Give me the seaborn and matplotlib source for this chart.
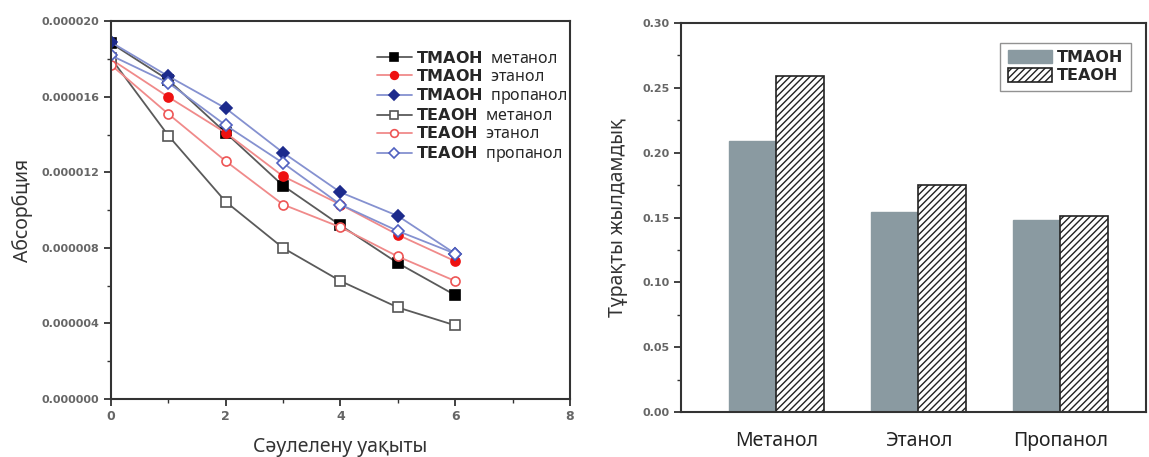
import numpy as np
import pandas as pd
import matplotlib
matplotlib.use("Agg")
import matplotlib.pyplot as plt
import seaborn as sns
from matplotlib.ticker import MultipleLocator, FormatStrFormatter

# --- left panel: absorption vs irradiation time ---
times = [0, 1, 2, 3, 4, 5, 6]
tmaoh_methanol = [18.85, 16.9, 14.1, 11.3, 9.2, 7.2, 5.5]
tmaoh_ethanol = [18.0, 16.0, 14.1, 11.8, 10.3, 8.7, 7.3]
tmaoh_propanol = [18.9, 17.1, 15.4, 13.05, 10.95, 9.7, 7.7]
teaoh_methanol = [18.05, 13.95, 10.45, 8.0, 6.25, 4.85, 3.9]
teaoh_ethanol = [17.7, 15.1, 12.6, 10.3, 9.1, 7.55, 6.25]
teaoh_propanol = [18.2, 16.75, 14.5, 12.5, 10.3, 8.9, 7.7]

# --- right panel: rate constants ---
solvents = ["Метанол", "Этанол", "Пропанол"]
rate_tmaoh = [0.209, 0.154, 0.148]
rate_teaoh = [0.259, 0.175, 0.151]

sns.set_theme(style="white")
plt.rcParams["font.family"] = ["Noto Sans", "DejaVu Sans"]
plt.rcParams["hatch.linewidth"] = 1.0

fig = plt.figure(figsize=(11.49, 4.57), dpi=100)
ax1 = fig.add_axes([0.0966, 0.127, 0.3994, 0.826])
ax2 = fig.add_axes([0.593, 0.0985, 0.404, 0.851])

series = [
    ("TMAOH", "метанол", tmaoh_methanol, "#5a5a5a", "s", "black", "black"),
    ("TMAOH", "этанол", tmaoh_ethanol, "#f08a8a", "o", "#ee1111", "#ee1111"),
    ("TMAOH", "пропанол", tmaoh_propanol, "#8591d0", "D", "#1c2a8c", "#1c2a8c"),
    ("TEAOH", "метанол", teaoh_methanol, "#5a5a5a", "s", "white", "#555555"),
    ("TEAOH", "этанол", teaoh_ethanol, "#f08a8a", "o", "white", "#ee5555"),
    ("TEAOH", "пропанол", teaoh_propanol, "#8591d0", "D", "white", "#5060c0"),
]
for base, solv, vals, lc, mk, mfc, mec in series:
    sns.lineplot(x=times, y=np.array(vals) * 1e-6, ax=ax1, color=lc,
                 marker=mk, markersize=6.5 if mk != "D" else 6,
                 markerfacecolor=mfc, markeredgecolor=mec, markeredgewidth=1.2,
                 linewidth=1.3, label=r"$\bf{" + base + "}$  " + solv)

ax1.set_xlim(0, 8)
ax1.set_ylim(0, 0.000020)
ax1.xaxis.set_major_locator(MultipleLocator(2))
ax1.xaxis.set_minor_locator(MultipleLocator(1))
ax1.yaxis.set_major_locator(MultipleLocator(0.000004))
ax1.yaxis.set_minor_locator(MultipleLocator(0.000002))
ax1.yaxis.set_major_formatter(FormatStrFormatter("%.6f"))
ax1.set_xlabel("Сәулелену уақыты", fontsize=14, color="#333333", labelpad=10)
ax1.set_ylabel("Абсорбция", fontsize=14, color="#333333", labelpad=6)
ax1.legend(loc="upper right", frameon=False, fontsize=11.5, handlelength=2.2,
           borderaxespad=0.6, labelspacing=0.12, handletextpad=0.3,
           bbox_to_anchor=(1.03, 0.965), markerscale=0.85)

# --- bars ---
df = pd.DataFrame({
    "solvent": solvents * 2,
    "rate": rate_tmaoh + rate_teaoh,
    "base": ["TMAOH"] * 3 + ["TEAOH"] * 3,
})
sns.barplot(data=df, x="solvent", y="rate", hue="base", ax=ax2,
            palette=["#8a9aa1", "white"], width=0.67, legend=False,
            saturation=1)
for p in ax2.containers[0]:
    p.set_edgecolor("#8a9aa1")
for p in ax2.containers[1]:
    p.set_facecolor("white")
    p.set_edgecolor("#222222")
    p.set_hatch("/////")
    p.set_linewidth(1.2)

ax2.set_xlim(-0.67, 2.6)
ax2.set_ylim(0, 0.30)
ax2.yaxis.set_major_locator(MultipleLocator(0.05))
ax2.yaxis.set_minor_locator(MultipleLocator(0.025))
ax2.yaxis.set_major_formatter(FormatStrFormatter("%.2f"))
ax2.set_xlabel("")
ax2.set_ylabel("Тұрақты жылдамдық", fontsize=14, color="#333333", labelpad=10)
ax2.tick_params(axis="x", length=0, pad=14, labelsize=14, labelcolor="#222222")
ax2.legend(ax2.containers, ["TMAOH", "TEAOH"], loc="upper right",
           prop={"weight": "bold", "size": 11.5, "family": "DejaVu Sans"},
           frameon=True, fancybox=False, edgecolor="#777777",
           borderaxespad=0.5, borderpad=0.45, handlelength=2.8,
           handleheight=0.9, labelspacing=0.2, handletextpad=0.3,
           bbox_to_anchor=(0.985, 0.97))

for ax in (ax1, ax2):
    for s in ax.spines.values():
        s.set_color("#333333")
        s.set_linewidth(1.5)
        s.set_visible(True)
    ax.tick_params(axis="y", which="both", direction="out", left=True,
                   color="#333333", labelsize=8, labelcolor="#666666")
    ax.tick_params(axis="y", which="major", length=5, width=1.3)
    ax.tick_params(axis="y", which="minor", length=3, width=1)
    for lab in ax.get_yticklabels():
        lab.set_fontweight("bold")
        lab.set_family("DejaVu Sans")
ax1.tick_params(axis="x", which="both", direction="out", bottom=True,
                color="#333333", labelsize=9, labelcolor="#666666", pad=3)
ax1.tick_params(axis="x", which="major", length=5, width=1.3)
ax1.tick_params(axis="x", which="minor", length=3, width=1)
for lab in ax1.get_xticklabels():
    lab.set_fontweight("bold")
    lab.set_family("DejaVu Sans")

fig.savefig("out.png", dpi=100)
